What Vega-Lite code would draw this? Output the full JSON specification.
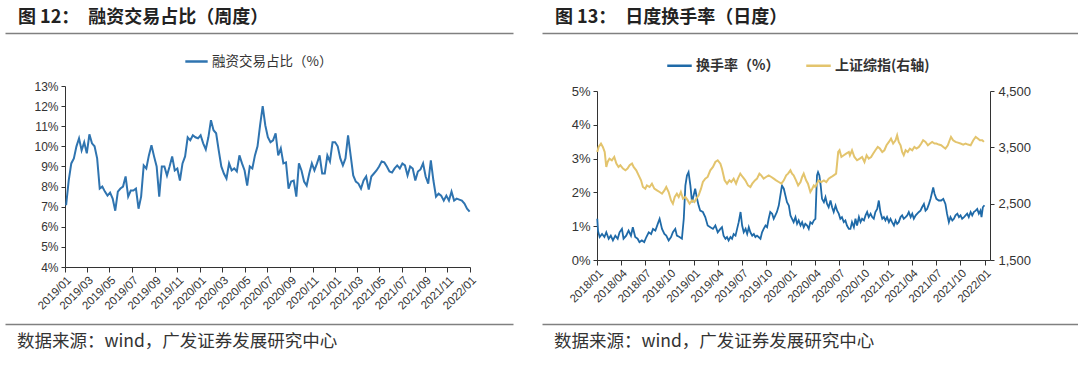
{
  "$schema": "https://vega.github.io/schema/vega-lite/v6.json",
  "padding": {"left": 5, "top": 9, "right": 0, "bottom": 0},
  "background": "white",
  "config": {"view": {"stroke": null}, "font": "Noto Sans CJK SC"},
  "resolve": {"scale": {"color": "independent"}, "legend": {"color": "independent"}},
  "datasets": {
    "weekly": [
      {"date":"2019-01-04","ratio":7.07},{"date":"2019-01-11","ratio":8.3},{"date":"2019-01-18","ratio":9.15},{"date":"2019-01-25","ratio":9.4},{"date":"2019-02-01","ratio":10.0},{"date":"2019-02-08","ratio":10.4},{"date":"2019-02-15","ratio":9.8},{"date":"2019-02-22","ratio":10.2},{"date":"2019-03-01","ratio":9.65},{"date":"2019-03-08","ratio":10.6},{"date":"2019-03-15","ratio":10.15},{"date":"2019-03-22","ratio":10.0},{"date":"2019-03-29","ratio":9.4},{"date":"2019-04-05","ratio":7.9},{"date":"2019-04-12","ratio":8.0},{"date":"2019-04-19","ratio":7.75},{"date":"2019-04-26","ratio":7.55},{"date":"2019-05-03","ratio":7.7},{"date":"2019-05-10","ratio":7.4},{"date":"2019-05-17","ratio":6.8},{"date":"2019-05-24","ratio":7.75},{"date":"2019-05-31","ratio":7.9},{"date":"2019-06-07","ratio":8.0},{"date":"2019-06-14","ratio":8.5},{"date":"2019-06-21","ratio":7.5},{"date":"2019-06-28","ratio":7.8},{"date":"2019-07-05","ratio":7.8},{"date":"2019-07-12","ratio":7.9},{"date":"2019-07-19","ratio":6.9},{"date":"2019-07-26","ratio":7.5},{"date":"2019-08-02","ratio":9.05},{"date":"2019-08-09","ratio":8.9},{"date":"2019-08-16","ratio":9.55},{"date":"2019-08-23","ratio":10.05},{"date":"2019-08-30","ratio":9.5},{"date":"2019-09-06","ratio":9.0},{"date":"2019-09-13","ratio":7.5},{"date":"2019-09-20","ratio":9.0},{"date":"2019-09-27","ratio":9.0},{"date":"2019-10-04","ratio":8.55},{"date":"2019-10-11","ratio":9.0},{"date":"2019-10-18","ratio":9.5},{"date":"2019-10-25","ratio":8.8},{"date":"2019-11-01","ratio":8.9},{"date":"2019-11-08","ratio":8.3},{"date":"2019-11-15","ratio":9.15},{"date":"2019-11-22","ratio":9.5},{"date":"2019-11-29","ratio":10.45},{"date":"2019-12-06","ratio":10.3},{"date":"2019-12-13","ratio":10.55},{"date":"2019-12-20","ratio":10.45},{"date":"2019-12-27","ratio":10.4},
      {"date":"2020-01-03","ratio":10.55},{"date":"2020-01-10","ratio":10.15},{"date":"2020-01-17","ratio":9.85},{"date":"2020-01-24","ratio":10.45},{"date":"2020-01-31","ratio":11.3},{"date":"2020-02-07","ratio":10.8},{"date":"2020-02-14","ratio":10.65},{"date":"2020-02-21","ratio":9.8},{"date":"2020-02-28","ratio":9.0},{"date":"2020-03-06","ratio":8.65},{"date":"2020-03-13","ratio":8.4},{"date":"2020-03-20","ratio":9.15},{"date":"2020-03-27","ratio":8.8},{"date":"2020-04-03","ratio":8.9},{"date":"2020-04-10","ratio":8.75},{"date":"2020-04-17","ratio":9.55},{"date":"2020-04-24","ratio":9.15},{"date":"2020-05-01","ratio":8.8},{"date":"2020-05-08","ratio":8.05},{"date":"2020-05-15","ratio":9.0},{"date":"2020-05-22","ratio":8.9},{"date":"2020-05-29","ratio":9.55},{"date":"2020-06-05","ratio":10.0},{"date":"2020-06-12","ratio":11.05},{"date":"2020-06-19","ratio":12.0},{"date":"2020-06-26","ratio":11.05},{"date":"2020-07-03","ratio":10.45},{"date":"2020-07-10","ratio":10.2},{"date":"2020-07-17","ratio":10.3},{"date":"2020-07-24","ratio":10.65},{"date":"2020-07-31","ratio":9.55},{"date":"2020-08-07","ratio":9.9},{"date":"2020-08-14","ratio":9.15},{"date":"2020-08-21","ratio":9.2},{"date":"2020-08-28","ratio":7.9},{"date":"2020-09-04","ratio":8.25},{"date":"2020-09-11","ratio":8.3},{"date":"2020-09-18","ratio":7.5},{"date":"2020-09-25","ratio":9.15},{"date":"2020-10-02","ratio":8.8},{"date":"2020-10-09","ratio":8.25},{"date":"2020-10-16","ratio":8.05},{"date":"2020-10-23","ratio":8.65},{"date":"2020-10-30","ratio":9.15},{"date":"2020-11-06","ratio":8.8},{"date":"2020-11-13","ratio":9.15},{"date":"2020-11-20","ratio":9.55},{"date":"2020-11-27","ratio":8.65},{"date":"2020-12-04","ratio":8.65},{"date":"2020-12-11","ratio":9.55},{"date":"2020-12-18","ratio":9.25},{"date":"2020-12-25","ratio":10.2},
      {"date":"2021-01-01","ratio":10.2},{"date":"2021-01-08","ratio":10.0},{"date":"2021-01-15","ratio":9.4},{"date":"2021-01-22","ratio":9.05},{"date":"2021-01-29","ratio":9.4},{"date":"2021-02-05","ratio":10.55},{"date":"2021-02-12","ratio":9.55},{"date":"2021-02-19","ratio":8.55},{"date":"2021-02-26","ratio":8.25},{"date":"2021-03-05","ratio":8.15},{"date":"2021-03-12","ratio":7.9},{"date":"2021-03-19","ratio":8.3},{"date":"2021-03-26","ratio":8.5},{"date":"2021-04-02","ratio":7.85},{"date":"2021-04-09","ratio":8.5},{"date":"2021-04-16","ratio":8.65},{"date":"2021-04-23","ratio":8.8},{"date":"2021-04-30","ratio":9.0},{"date":"2021-05-07","ratio":9.25},{"date":"2021-05-14","ratio":9.2},{"date":"2021-05-21","ratio":9.0},{"date":"2021-05-28","ratio":8.75},{"date":"2021-06-04","ratio":8.7},{"date":"2021-06-11","ratio":8.9},{"date":"2021-06-18","ratio":9.05},{"date":"2021-06-25","ratio":8.9},{"date":"2021-07-02","ratio":9.15},{"date":"2021-07-09","ratio":9.05},{"date":"2021-07-16","ratio":8.55},{"date":"2021-07-23","ratio":9.0},{"date":"2021-07-30","ratio":8.9},{"date":"2021-08-06","ratio":8.3},{"date":"2021-08-13","ratio":8.75},{"date":"2021-08-20","ratio":8.85},{"date":"2021-08-27","ratio":9.15},{"date":"2021-09-03","ratio":8.5},{"date":"2021-09-10","ratio":8.15},{"date":"2021-09-17","ratio":9.3},{"date":"2021-09-24","ratio":8.3},{"date":"2021-10-01","ratio":7.5},{"date":"2021-10-08","ratio":7.65},{"date":"2021-10-15","ratio":7.55},{"date":"2021-10-22","ratio":7.3},{"date":"2021-10-29","ratio":7.55},{"date":"2021-11-05","ratio":7.3},{"date":"2021-11-12","ratio":7.75},{"date":"2021-11-19","ratio":7.3},{"date":"2021-11-26","ratio":7.4},{"date":"2021-12-03","ratio":7.35},{"date":"2021-12-10","ratio":7.3},{"date":"2021-12-17","ratio":7.15},{"date":"2021-12-24","ratio":6.9},{"date":"2021-12-31","ratio":6.75}
    ],
    "turn": [
      {"date":"2018-01-02","turnover":1.22},{"date":"2018-01-05","turnover":0.85},{"date":"2018-01-11","turnover":0.68},{"date":"2018-01-20","turnover":0.77},{"date":"2018-01-29","turnover":0.68},{"date":"2018-02-05","turnover":0.82},{"date":"2018-02-14","turnover":0.63},{"date":"2018-02-22","turnover":0.72},{"date":"2018-03-02","turnover":0.58},{"date":"2018-03-11","turnover":0.72},{"date":"2018-03-20","turnover":0.63},{"date":"2018-03-27","turnover":0.82},{"date":"2018-04-05","turnover":0.92},{"date":"2018-04-11","turnover":0.63},{"date":"2018-04-21","turnover":0.72},{"date":"2018-04-30","turnover":0.87},{"date":"2018-05-09","turnover":0.72},{"date":"2018-05-16","turnover":0.97},{"date":"2018-05-25","turnover":0.68},{"date":"2018-06-03","turnover":0.63},{"date":"2018-06-10","turnover":0.53},{"date":"2018-06-19","turnover":0.58},{"date":"2018-06-28","turnover":0.53},{"date":"2018-07-06","turnover":0.68},{"date":"2018-07-15","turnover":0.82},{"date":"2018-07-24","turnover":0.77},{"date":"2018-07-31","turnover":0.92},{"date":"2018-08-09","turnover":0.87},{"date":"2018-08-18","turnover":1.07},{"date":"2018-08-25","turnover":1.22},{"date":"2018-09-03","turnover":0.92},{"date":"2018-09-12","turnover":0.77},{"date":"2018-09-19","turnover":0.72},{"date":"2018-09-28","turnover":0.58},{"date":"2018-10-07","turnover":0.68},{"date":"2018-10-14","turnover":0.82},{"date":"2018-10-23","turnover":0.92},{"date":"2018-10-29","turnover":0.72},{"date":"2018-11-08","turnover":0.68},{"date":"2018-11-17","turnover":0.63},{"date":"2018-11-24","turnover":1.22},{"date":"2018-11-30","turnover":2.2},{"date":"2018-12-06","turnover":2.5},{"date":"2018-12-12","turnover":2.6},{"date":"2018-12-19","turnover":2.2},{"date":"2018-12-25","turnover":1.71},{"date":"2018-12-31","turnover":1.91},
      {"date":"2019-01-06","turnover":2.11},{"date":"2019-01-13","turnover":1.81},{"date":"2019-01-19","turnover":1.61},{"date":"2019-01-25","turnover":1.46},{"date":"2019-02-04","turnover":1.42},{"date":"2019-02-13","turnover":1.27},{"date":"2019-02-22","turnover":1.02},{"date":"2019-03-04","turnover":0.97},{"date":"2019-03-14","turnover":0.92},{"date":"2019-03-23","turnover":1.02},{"date":"2019-04-01","turnover":0.82},{"date":"2019-04-11","turnover":0.92},{"date":"2019-04-17","turnover":0.97},{"date":"2019-04-23","turnover":0.72},{"date":"2019-04-30","turnover":0.63},{"date":"2019-05-06","turnover":0.68},{"date":"2019-05-12","turnover":0.58},{"date":"2019-05-19","turnover":0.68},{"date":"2019-05-25","turnover":0.63},{"date":"2019-05-31","turnover":0.77},{"date":"2019-06-07","turnover":0.72},{"date":"2019-06-13","turnover":0.92},{"date":"2019-06-19","turnover":1.12},{"date":"2019-06-26","turnover":1.42},{"date":"2019-07-02","turnover":1.02},{"date":"2019-07-08","turnover":0.82},{"date":"2019-07-15","turnover":0.92},{"date":"2019-07-21","turnover":0.77},{"date":"2019-07-27","turnover":0.97},{"date":"2019-08-02","turnover":0.82},{"date":"2019-08-09","turnover":0.72},{"date":"2019-08-15","turnover":0.77},{"date":"2019-08-21","turnover":0.68},{"date":"2019-08-27","turnover":0.72},{"date":"2019-09-02","turnover":0.68},{"date":"2019-09-09","turnover":0.63},{"date":"2019-09-15","turnover":0.82},{"date":"2019-09-21","turnover":0.92},{"date":"2019-09-28","turnover":1.02},{"date":"2019-10-04","turnover":0.97},{"date":"2019-10-10","turnover":1.22},{"date":"2019-10-16","turnover":1.42},{"date":"2019-10-23","turnover":1.37},{"date":"2019-10-29","turnover":1.22},{"date":"2019-11-04","turnover":1.32},{"date":"2019-11-10","turnover":1.42},{"date":"2019-11-17","turnover":1.61},{"date":"2019-11-23","turnover":1.91},{"date":"2019-11-29","turnover":2.2},{"date":"2019-12-06","turnover":2.11},{"date":"2019-12-12","turnover":1.91},{"date":"2019-12-18","turnover":1.71},{"date":"2019-12-25","turnover":1.61},{"date":"2019-12-31","turnover":1.32},
      {"date":"2020-01-06","turnover":1.22},{"date":"2020-01-12","turnover":1.12},{"date":"2020-01-19","turnover":1.27},{"date":"2020-01-25","turnover":1.07},{"date":"2020-01-31","turnover":1.17},{"date":"2020-02-07","turnover":1.02},{"date":"2020-02-13","turnover":1.12},{"date":"2020-02-19","turnover":0.97},{"date":"2020-02-25","turnover":1.07},{"date":"2020-03-03","turnover":1.02},{"date":"2020-03-09","turnover":0.92},{"date":"2020-03-15","turnover":1.12},{"date":"2020-03-22","turnover":1.07},{"date":"2020-03-28","turnover":1.17},{"date":"2020-04-03","turnover":1.22},{"date":"2020-04-09","turnover":2.5},{"date":"2020-04-13","turnover":2.6},{"date":"2020-04-18","turnover":2.5},{"date":"2020-04-23","turnover":2.2},{"date":"2020-04-28","turnover":1.81},{"date":"2020-05-05","turnover":1.71},{"date":"2020-05-11","turnover":1.86},{"date":"2020-05-17","turnover":1.66},{"date":"2020-05-23","turnover":1.56},{"date":"2020-05-30","turnover":1.76},{"date":"2020-06-05","turnover":1.56},{"date":"2020-06-11","turnover":1.42},{"date":"2020-06-18","turnover":1.61},{"date":"2020-06-24","turnover":1.46},{"date":"2020-06-30","turnover":1.37},{"date":"2020-07-06","turnover":1.22},{"date":"2020-07-12","turnover":1.27},{"date":"2020-07-19","turnover":1.12},{"date":"2020-07-25","turnover":1.17},{"date":"2020-07-31","turnover":1.02},{"date":"2020-08-07","turnover":0.92},{"date":"2020-08-13","turnover":0.92},{"date":"2020-08-19","turnover":1.12},{"date":"2020-08-26","turnover":0.97},{"date":"2020-09-01","turnover":1.22},{"date":"2020-09-07","turnover":1.02},{"date":"2020-09-14","turnover":1.27},{"date":"2020-09-20","turnover":1.12},{"date":"2020-09-26","turnover":1.22},{"date":"2020-10-03","turnover":1.17},{"date":"2020-10-09","turnover":1.32},{"date":"2020-10-15","turnover":1.42},{"date":"2020-10-21","turnover":1.27},{"date":"2020-10-28","turnover":1.37},{"date":"2020-11-03","turnover":1.27},{"date":"2020-11-09","turnover":1.22},{"date":"2020-11-15","turnover":1.42},{"date":"2020-11-22","turnover":1.51},{"date":"2020-11-28","turnover":1.76},{"date":"2020-12-04","turnover":1.42},{"date":"2020-12-11","turnover":1.22},{"date":"2020-12-17","turnover":1.27},{"date":"2020-12-23","turnover":1.17},{"date":"2020-12-29","turnover":1.27},
      {"date":"2021-01-05","turnover":1.12},{"date":"2021-01-11","turnover":1.22},{"date":"2021-01-17","turnover":1.12},{"date":"2021-01-24","turnover":1.02},{"date":"2021-01-30","turnover":1.17},{"date":"2021-02-05","turnover":1.07},{"date":"2021-02-11","turnover":1.12},{"date":"2021-02-18","turnover":1.27},{"date":"2021-02-24","turnover":1.32},{"date":"2021-03-02","turnover":1.22},{"date":"2021-03-09","turnover":1.27},{"date":"2021-03-15","turnover":1.32},{"date":"2021-03-21","turnover":1.42},{"date":"2021-03-28","turnover":1.27},{"date":"2021-04-03","turnover":1.37},{"date":"2021-04-09","turnover":1.22},{"date":"2021-04-16","turnover":1.32},{"date":"2021-04-22","turnover":1.37},{"date":"2021-04-28","turnover":1.42},{"date":"2021-05-04","turnover":1.46},{"date":"2021-05-10","turnover":1.56},{"date":"2021-05-17","turnover":1.66},{"date":"2021-05-23","turnover":1.46},{"date":"2021-05-29","turnover":1.51},{"date":"2021-06-05","turnover":1.66},{"date":"2021-06-11","turnover":1.81},{"date":"2021-06-17","turnover":2.01},{"date":"2021-06-21","turnover":2.15},{"date":"2021-06-26","turnover":1.96},{"date":"2021-07-03","turnover":1.81},{"date":"2021-07-12","turnover":1.76},{"date":"2021-07-21","turnover":1.76},{"date":"2021-07-29","turnover":1.81},{"date":"2021-08-06","turnover":1.66},{"date":"2021-08-12","turnover":1.37},{"date":"2021-08-19","turnover":1.12},{"date":"2021-08-25","turnover":1.27},{"date":"2021-09-01","turnover":1.17},{"date":"2021-09-07","turnover":1.22},{"date":"2021-09-13","turnover":1.32},{"date":"2021-09-20","turnover":1.37},{"date":"2021-09-26","turnover":1.27},{"date":"2021-10-02","turnover":1.32},{"date":"2021-10-08","turnover":1.22},{"date":"2021-10-15","turnover":1.27},{"date":"2021-10-21","turnover":1.32},{"date":"2021-10-27","turnover":1.37},{"date":"2021-11-02","turnover":1.27},{"date":"2021-11-09","turnover":1.42},{"date":"2021-11-15","turnover":1.32},{"date":"2021-11-21","turnover":1.42},{"date":"2021-11-28","turnover":1.46},{"date":"2021-12-04","turnover":1.51},{"date":"2021-12-10","turnover":1.37},{"date":"2021-12-16","turnover":1.46},{"date":"2021-12-20","turnover":1.27},{"date":"2021-12-25","turnover":1.56},{"date":"2021-12-31","turnover":1.62}
    ],
    "sse": [
      {"date":"2018-01-02","sh":3418},{"date":"2018-01-07","sh":3507},{"date":"2018-01-16","sh":3567},{"date":"2018-01-23","sh":3507},{"date":"2018-01-30","sh":3418},{"date":"2018-02-05","sh":3151},{"date":"2018-02-10","sh":3240},{"date":"2018-02-17","sh":3300},{"date":"2018-02-26","sh":3270},{"date":"2018-03-07","sh":3329},{"date":"2018-03-15","sh":3211},{"date":"2018-03-23","sh":3151},{"date":"2018-03-30","sh":3181},{"date":"2018-04-09","sh":3122},{"date":"2018-04-18","sh":3092},{"date":"2018-04-26","sh":3122},{"date":"2018-05-04","sh":3181},{"date":"2018-05-13","sh":3211},{"date":"2018-05-19","sh":3151},{"date":"2018-05-29","sh":3092},{"date":"2018-06-07","sh":3003},{"date":"2018-06-16","sh":2914},{"date":"2018-06-23","sh":2796},{"date":"2018-07-02","sh":2766},{"date":"2018-07-08","sh":2825},{"date":"2018-07-18","sh":2796},{"date":"2018-07-27","sh":2855},{"date":"2018-08-05","sh":2766},{"date":"2018-08-15","sh":2736},{"date":"2018-08-25","sh":2707},{"date":"2018-09-03","sh":2677},{"date":"2018-09-12","sh":2736},{"date":"2018-09-19","sh":2796},{"date":"2018-09-28","sh":2707},{"date":"2018-10-07","sh":2558},{"date":"2018-10-14","sh":2499},{"date":"2018-10-21","sh":2618},{"date":"2018-10-29","sh":2677},{"date":"2018-11-05","sh":2618},{"date":"2018-11-13","sh":2707},{"date":"2018-11-21","sh":2588},{"date":"2018-11-30","sh":2618},{"date":"2018-12-09","sh":2558},{"date":"2018-12-16","sh":2499},{"date":"2018-12-25","sh":2558},
      {"date":"2019-01-03","sh":2529},{"date":"2019-01-10","sh":2588},{"date":"2019-01-19","sh":2647},{"date":"2019-01-28","sh":2766},{"date":"2019-02-04","sh":2884},{"date":"2019-02-13","sh":2944},{"date":"2019-02-22","sh":2974},{"date":"2019-03-04","sh":3092},{"date":"2019-03-14","sh":3151},{"date":"2019-03-23","sh":3240},{"date":"2019-04-01","sh":3270},{"date":"2019-04-11","sh":3211},{"date":"2019-04-17","sh":3120},{"date":"2019-04-27","sh":2914},{"date":"2019-05-06","sh":2855},{"date":"2019-05-15","sh":2914},{"date":"2019-05-22","sh":2884},{"date":"2019-05-31","sh":2944},{"date":"2019-06-09","sh":2855},{"date":"2019-06-16","sh":2944},{"date":"2019-06-25","sh":3033},{"date":"2019-07-04","sh":2974},{"date":"2019-07-14","sh":2914},{"date":"2019-07-24","sh":2825},{"date":"2019-08-02","sh":2796},{"date":"2019-08-09","sh":2855},{"date":"2019-08-19","sh":2914},{"date":"2019-08-27","sh":2944},{"date":"2019-09-05","sh":3033},{"date":"2019-09-12","sh":3003},{"date":"2019-09-21","sh":2944},{"date":"2019-09-30","sh":2974},{"date":"2019-10-10","sh":3003},{"date":"2019-10-20","sh":2974},{"date":"2019-10-29","sh":2944},{"date":"2019-11-07","sh":2914},{"date":"2019-11-17","sh":2885},{"date":"2019-11-27","sh":2855},{"date":"2019-12-06","sh":2914},{"date":"2019-12-15","sh":3003},{"date":"2019-12-22","sh":3033},{"date":"2019-12-31","sh":3092},
      {"date":"2020-01-06","sh":3033},{"date":"2020-01-12","sh":3003},{"date":"2020-01-21","sh":2914},{"date":"2020-01-29","sh":2825},{"date":"2020-02-07","sh":2884},{"date":"2020-02-13","sh":2974},{"date":"2020-02-19","sh":3033},{"date":"2020-02-28","sh":2914},{"date":"2020-03-06","sh":2855},{"date":"2020-03-15","sh":2707},{"date":"2020-03-22","sh":2766},{"date":"2020-03-28","sh":2825},{"date":"2020-04-03","sh":2796},{"date":"2020-04-09","sh":2855},{"date":"2020-04-15","sh":2914},{"date":"2020-04-25","sh":2884},{"date":"2020-05-05","sh":2914},{"date":"2020-05-14","sh":2884},{"date":"2020-05-23","sh":2944},{"date":"2020-06-02","sh":2974},{"date":"2020-06-11","sh":3003},{"date":"2020-06-20","sh":3033},{"date":"2020-06-28","sh":3418},{"date":"2020-07-03","sh":3448},{"date":"2020-07-10","sh":3329},{"date":"2020-07-19","sh":3359},{"date":"2020-07-28","sh":3389},{"date":"2020-08-07","sh":3418},{"date":"2020-08-11","sh":3359},{"date":"2020-08-19","sh":3448},{"date":"2020-08-28","sh":3329},{"date":"2020-09-07","sh":3270},{"date":"2020-09-17","sh":3300},{"date":"2020-09-26","sh":3329},{"date":"2020-10-05","sh":3240},{"date":"2020-10-13","sh":3359},{"date":"2020-10-21","sh":3300},{"date":"2020-10-30","sh":3329},{"date":"2020-11-07","sh":3389},{"date":"2020-11-15","sh":3448},{"date":"2020-11-24","sh":3507},{"date":"2020-12-02","sh":3478},{"date":"2020-12-11","sh":3418},{"date":"2020-12-19","sh":3448},{"date":"2020-12-27","sh":3537},
      {"date":"2021-01-05","sh":3596},{"date":"2021-01-13","sh":3656},{"date":"2021-01-21","sh":3567},{"date":"2021-01-30","sh":3626},{"date":"2021-02-05","sh":3715},{"date":"2021-02-11","sh":3596},{"date":"2021-02-18","sh":3537},{"date":"2021-02-24","sh":3418},{"date":"2021-03-02","sh":3359},{"date":"2021-03-09","sh":3448},{"date":"2021-03-17","sh":3418},{"date":"2021-03-25","sh":3478},{"date":"2021-04-03","sh":3448},{"date":"2021-04-11","sh":3507},{"date":"2021-04-19","sh":3478},{"date":"2021-04-28","sh":3507},{"date":"2021-05-07","sh":3567},{"date":"2021-05-14","sh":3626},{"date":"2021-05-23","sh":3596},{"date":"2021-06-01","sh":3537},{"date":"2021-06-09","sh":3567},{"date":"2021-06-17","sh":3596},{"date":"2021-06-26","sh":3567},{"date":"2021-07-03","sh":3567},{"date":"2021-07-12","sh":3549},{"date":"2021-07-21","sh":3537},{"date":"2021-07-29","sh":3507},{"date":"2021-08-06","sh":3478},{"date":"2021-08-15","sh":3537},{"date":"2021-08-22","sh":3626},{"date":"2021-08-27","sh":3685},{"date":"2021-09-04","sh":3626},{"date":"2021-09-13","sh":3596},{"date":"2021-09-22","sh":3584},{"date":"2021-10-02","sh":3567},{"date":"2021-10-12","sh":3549},{"date":"2021-10-21","sh":3567},{"date":"2021-10-30","sh":3549},{"date":"2021-11-09","sh":3537},{"date":"2021-11-19","sh":3626},{"date":"2021-11-28","sh":3685},{"date":"2021-12-06","sh":3656},{"date":"2021-12-14","sh":3626},{"date":"2021-12-23","sh":3626},{"date":"2021-12-29","sh":3596}
    ]
  },
  "hconcat": [
    {
      "spacing": 0,
      "resolve": {"scale": {"color": "independent"}, "legend": {"color": "independent"}},
      "vconcat": [
        {
          "width": 508, "height": 16,
          "title": {"text": "图 12：\u2002融资交易占比（周度）", "anchor": "start", "frame": "group", "dx": 13, "offset": 6, "fontSize": 18, "fontWeight": "bold", "font": "Noto Sans CJK SC", "color": "#222222"},
          "data": {"values": [{"v": 0}]},
          "mark": {"type": "rule", "opacity": 0},
          "encoding": {"x": {"field": "v", "type": "quantitative", "scale": {"domain": [0, 1]}, "axis": {"orient": "top", "ticks": false, "labels": false, "title": null, "grid": false, "domainColor": "#808080", "domainWidth": 1.5}}}
        },
        {
          "spacing": 0,
          "resolve": {"scale": {"color": "independent"}, "legend": {"color": "independent"}},
          "hconcat": [
            {"width": 20, "height": 181, "data": {"values": [{"v": 0}]}, "mark": {"type": "point", "opacity": 0}},
            {
              "width": 405, "height": 181,
              "data": {"name": "weekly"},
              "mark": {"type": "line", "strokeWidth": 2},
              "encoding": {
                "x": {"field": "date", "type": "temporal",
                  "scale": {"domain": [{"year": 2019, "month": 1, "date": 1}, {"year": 2022, "month": 1, "date": 1}]},
                  "axis": {"tickCount": {"interval": "month", "step": 2}, "format": "%Y/%m", "labelAngle": -45, "labelFont": "Liberation Sans", "labelFontSize": 11.5, "labelColor": "#333333", "labelFlush": false, "labelOverlap": false, "labelPadding": 2, "tickSize": 5, "tickColor": "#333333", "domainColor": "#333333", "grid": false, "title": null, "minExtent": 57, "maxExtent": 120}},
                "y": {"field": "ratio", "type": "quantitative",
                  "scale": {"domain": [4, 13], "nice": false, "zero": false},
                  "axis": {"values": [4, 5, 6, 7, 8, 9, 10, 11, 12, 13], "labelExpr": "datum.value + '%'", "labelFont": "Liberation Sans", "labelFontSize": 12, "labelColor": "#333333", "tickSize": 4, "tickColor": "#333333", "domainColor": "#333333", "grid": false, "title": null, "labelPadding": 3, "minExtent": 40, "maxExtent": 40}},
                "color": {"datum": "融资交易占比（%）", "type": "nominal",
                  "scale": {"domain": ["融资交易占比（%）"], "range": ["#2f74b0"]},
                  "legend": {"orient": "none", "legendX": 119, "legendY": -37, "direction": "horizontal", "title": null, "symbolType": "stroke", "symbolSize": 500, "symbolStrokeWidth": 2.5, "labelFont": "Noto Sans CJK SC", "labelFontSize": 13.5, "labelColor": "#333333", "labelOffset": 3, "padding": 0}}
              }
            }
          ]
        },
        {
          "width": 508, "height": 1,
          "title": {"text": "数据来源：wind，广发证券发展研究中心", "orient": "bottom", "anchor": "start", "frame": "group", "dx": 12, "offset": 8, "fontSize": 17.5, "fontWeight": "normal", "font": "Noto Sans CJK SC", "color": "#333333"},
          "data": {"values": [{"v": 0}]},
          "mark": {"type": "rule", "opacity": 0},
          "encoding": {"x": {"field": "v", "type": "quantitative", "scale": {"domain": [0, 1]}, "axis": {"orient": "top", "ticks": false, "labels": false, "title": null, "grid": false, "domainColor": "#808080", "domainWidth": 1.5}}}
        }
      ]
    },
    {
      "spacing": 0,
      "resolve": {"scale": {"color": "independent"}, "legend": {"color": "independent"}},
      "vconcat": [
        {
          "width": 536, "height": 19,
          "title": {"text": "图 13：\u2002日度换手率（日度）", "anchor": "start", "frame": "group", "dx": 13, "offset": 6, "fontSize": 18, "fontWeight": "bold", "font": "Noto Sans CJK SC", "color": "#222222"},
          "data": {"values": [{"v": 0}]},
          "mark": {"type": "rule", "opacity": 0},
          "encoding": {"x": {"field": "v", "type": "quantitative", "scale": {"domain": [0, 1]}, "axis": {"orient": "top", "ticks": false, "labels": false, "title": null, "grid": false, "domainColor": "#808080", "domainWidth": 1.5}}}
        },
        {
          "spacing": 0,
          "resolve": {"scale": {"color": "independent"}, "legend": {"color": "independent"}},
          "hconcat": [
            {"width": 20, "height": 169, "data": {"values": [{"v": 0}]}, "mark": {"type": "point", "opacity": 0}},
            {
              "width": 393, "height": 169,
              "encoding": {
                "x": {"field": "date", "type": "temporal",
                  "scale": {"domain": [{"year": 2018, "month": 1, "date": 1}, {"year": 2022, "month": 1, "date": 21}]},
                  "axis": {"tickCount": {"interval": "month", "step": 3}, "format": "%Y/%m", "labelAngle": -45, "labelFont": "Liberation Sans", "labelFontSize": 11.5, "labelColor": "#333333", "labelFlush": false, "labelOverlap": false, "labelPadding": 2, "tickSize": 5, "tickColor": "#333333", "domainColor": "#333333", "grid": false, "title": null, "minExtent": 64, "maxExtent": 120}}
              },
              "layer": [
                {
                  "data": {"name": "turn"},
                  "mark": {"type": "line", "strokeWidth": 1.8},
                  "encoding": {
                    "y": {"field": "turnover", "type": "quantitative",
                      "scale": {"domain": [0, 5], "nice": false},
                      "axis": {"orient": "left", "values": [0, 1, 2, 3, 4, 5], "labelExpr": "datum.value + '%'", "labelFont": "Liberation Sans", "labelFontSize": 13, "labelColor": "#333333", "tickSize": 4, "tickColor": "#333333", "domainColor": "#333333", "grid": false, "title": null, "labelPadding": 3, "minExtent": 35, "maxExtent": 35}},
                    "color": {"datum": "换手率（%）", "type": "nominal",
                      "scale": {"domain": ["换手率（%）", "上证综指(右轴)"], "range": ["#1f6aa8", "#e3c46d"]},
                      "legend": {"orient": "none", "legendX": 69, "legendY": -39, "direction": "horizontal", "title": null, "symbolType": "stroke", "symbolSize": 600, "symbolStrokeWidth": 2.5, "labelFont": "Noto Sans CJK SC", "labelFontSize": 14, "labelFontWeight": "bold", "labelColor": "#333333", "labelOffset": 3, "columnPadding": 21, "padding": 0}}
                  }
                },
                {
                  "data": {"name": "sse"},
                  "mark": {"type": "line", "strokeWidth": 2},
                  "encoding": {
                    "y": {"field": "sh", "type": "quantitative",
                      "scale": {"domain": [1500, 4500], "nice": false, "zero": false},
                      "axis": {"orient": "right", "values": [1500, 2500, 3500, 4500], "format": ",.0f", "labelFont": "Liberation Sans", "labelFontSize": 13, "labelColor": "#333333", "tickSize": 4, "tickColor": "#333333", "domainColor": "#333333", "grid": false, "title": null, "labelPadding": 4}},
                    "color": {"datum": "上证综指(右轴)", "type": "nominal"}
                  }
                }
              ],
              "resolve": {"scale": {"y": "independent"}}
            }
          ]
        },
        {
          "width": 536, "height": 1,
          "title": {"text": "数据来源：wind，广发证券发展研究中心", "orient": "bottom", "anchor": "start", "frame": "group", "dx": 12, "offset": 8, "fontSize": 17.5, "fontWeight": "normal", "font": "Noto Sans CJK SC", "color": "#333333"},
          "data": {"values": [{"v": 0}]},
          "mark": {"type": "rule", "opacity": 0},
          "encoding": {"x": {"field": "v", "type": "quantitative", "scale": {"domain": [0, 1]}, "axis": {"orient": "top", "ticks": false, "labels": false, "title": null, "grid": false, "domainColor": "#808080", "domainWidth": 1.5}}}
        }
      ]
    }
  ],
  "spacing": 29
}
